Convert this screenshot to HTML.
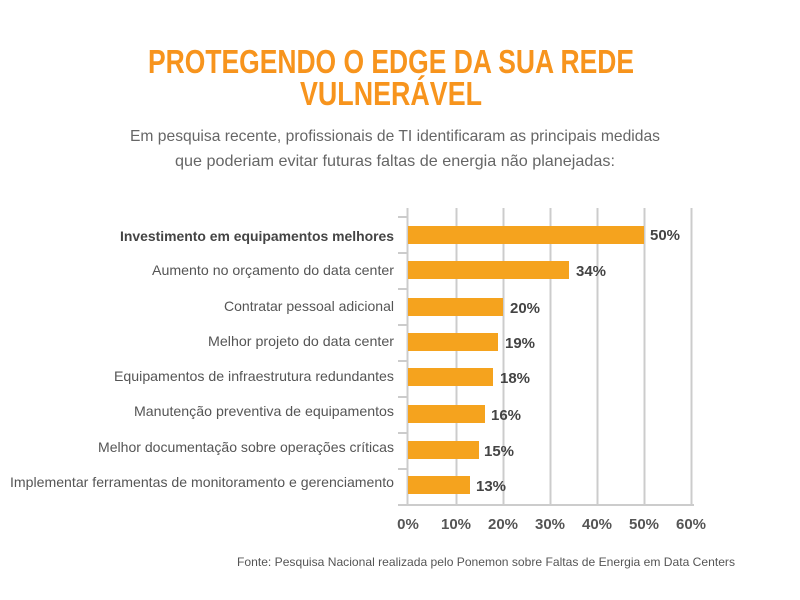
<!DOCTYPE html>
<html><head><meta charset="utf-8"><style>
body{margin:0;background:#fff}
svg{display:block}
</style></head><body>
<svg width="800" height="600" xmlns="http://www.w3.org/2000/svg" font-family="Liberation Sans, sans-serif">
<rect width="800" height="600" fill="#fff"/>
<g fill="#F7941D" font-weight="bold" font-size="33" text-anchor="middle">
<text x="391" y="73" textLength="486" lengthAdjust="spacingAndGlyphs">PROTEGENDO O EDGE DA SUA REDE</text>
<text x="391" y="105" textLength="182" lengthAdjust="spacingAndGlyphs">VULNERÁVEL</text>
</g>
<g fill="#666" font-size="16" text-anchor="middle">
<text x="395" y="141" textLength="530" lengthAdjust="spacingAndGlyphs">Em pesquisa recente, profissionais de TI identificaram as principais medidas</text>
<text x="395" y="166" textLength="440" lengthAdjust="spacingAndGlyphs">que poderiam evitar futuras faltas de energia não planejadas:</text>
</g>
<g stroke="#ccc" stroke-width="2">
<line x1="456.5" y1="208" x2="456.5" y2="506"/>
<line x1="503.5" y1="208" x2="503.5" y2="506"/>
<line x1="550.5" y1="208" x2="550.5" y2="506"/>
<line x1="597.5" y1="208" x2="597.5" y2="506"/>
<line x1="644.5" y1="208" x2="644.5" y2="506"/>
<line x1="691.5" y1="208" x2="691.5" y2="506"/>
<line x1="407.5" y1="208" x2="407.5" y2="506"/>
<line x1="398" y1="505" x2="694" y2="505"/>
<line x1="398" y1="217" x2="407" y2="217"/>
<line x1="398" y1="253" x2="407" y2="253"/>
<line x1="398" y1="289" x2="407" y2="289"/>
<line x1="398" y1="325" x2="407" y2="325"/>
<line x1="398" y1="361" x2="407" y2="361"/>
<line x1="398" y1="397" x2="407" y2="397"/>
<line x1="398" y1="433" x2="407" y2="433"/>
<line x1="398" y1="469" x2="407" y2="469"/>
</g>
<g fill="#F5A31E">
<rect x="408" y="226" width="236" height="18"/>
<rect x="408" y="261" width="161" height="18"/>
<rect x="408" y="298" width="95" height="18"/>
<rect x="408" y="333" width="90" height="18"/>
<rect x="408" y="368" width="85" height="18"/>
<rect x="408" y="405" width="77" height="18"/>
<rect x="408" y="441" width="71" height="18"/>
<rect x="408" y="476" width="62" height="18"/>
</g>
<g fill="#444" font-size="15" font-weight="bold">
<text x="650" y="240">50%</text>
<text x="576" y="276">34%</text>
<text x="510" y="313">20%</text>
<text x="505" y="348">19%</text>
<text x="500" y="383">18%</text>
<text x="491" y="420">16%</text>
<text x="484" y="456">15%</text>
<text x="476" y="491">13%</text>
</g>
<g fill="#555" font-size="14" text-anchor="end">
<text x="394" y="241" font-weight="bold" fill="#444" textLength="274" lengthAdjust="spacingAndGlyphs">Investimento em equipamentos melhores</text>
<text x="394" y="275" textLength="242" lengthAdjust="spacingAndGlyphs">Aumento no orçamento do data center</text>
<text x="394" y="311" textLength="170" lengthAdjust="spacingAndGlyphs">Contratar pessoal adicional</text>
<text x="394" y="346" textLength="186" lengthAdjust="spacingAndGlyphs">Melhor projeto do data center</text>
<text x="394" y="381" textLength="280" lengthAdjust="spacingAndGlyphs">Equipamentos de infraestrutura redundantes</text>
<text x="394" y="416" textLength="260" lengthAdjust="spacingAndGlyphs">Manutenção preventiva de equipamentos</text>
<text x="394" y="452" textLength="296" lengthAdjust="spacingAndGlyphs">Melhor documentação sobre operações críticas</text>
<text x="394" y="487" textLength="384" lengthAdjust="spacingAndGlyphs">Implementar ferramentas de monitoramento e gerenciamento</text>
</g>
<g fill="#555" font-size="15" font-weight="bold" text-anchor="middle">
<text x="408" y="529">0%</text>
<text x="456" y="529">10%</text>
<text x="503" y="529">20%</text>
<text x="550" y="529">30%</text>
<text x="597" y="529">40%</text>
<text x="644" y="529">50%</text>
<text x="691" y="529">60%</text>
</g>
<text x="486" y="566" fill="#555" font-size="12" text-anchor="middle" textLength="498" lengthAdjust="spacingAndGlyphs">Fonte: Pesquisa Nacional realizada pelo Ponemon sobre Faltas de Energia em Data Centers</text>
</svg>
</body></html>
